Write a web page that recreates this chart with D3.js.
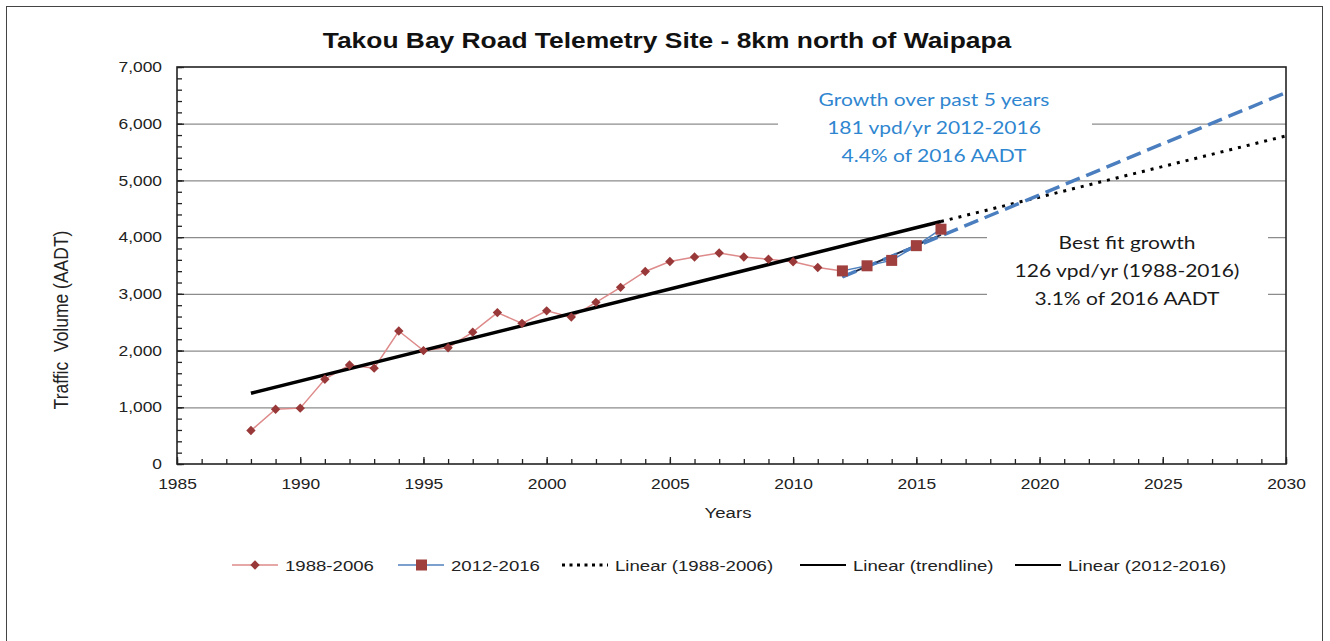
<!DOCTYPE html>
<html>
<head>
<meta charset="utf-8">
<script src="https://cdn.jsdelivr.net/npm/d3@7"></script>
<style>
  body { margin: 0; background: #fff; }
  svg { display: block; }
  text { font-family: "Liberation Sans", Arial, sans-serif; fill: #222; }
  .note text { font-family: Lato, "Open Sans", sans-serif; }
</style>
</head>
<body>
<div id="chart"></div>
<script>
// data
const years1 = [1988, 1989, 1990, 1991, 1992, 1993, 1994, 1995, 1996, 1997, 1998, 1999, 2000,
    2001, 2002, 2003, 2004, 2005, 2006, 2007, 2008, 2009, 2010, 2011, 2012];
const vals1 = [590, 965, 985, 1495, 1745, 1690, 2345, 2000, 2050, 2325, 2670, 2480, 2700,
    2590, 2850, 3115, 3395, 3570, 3650, 3720, 3650, 3610, 3565, 3465, 3405];
const years2 = [2012, 2013, 2014, 2015, 2016];
const vals2 = [3405, 3495, 3590, 3850, 4140];

// trendlines (end points)
const trendYears = [1988, 2016];
const trendVals = [1247, 4275];
const projYears = [2016, 2030];
const projVals = [4275, 5785];
const recentYears = [2012, 2016];
const recentVals = [3300, 4040];
const recentProjYears = [2012, 2030];
const recentProjVals = [3300, 6550];

const yTicks = [0, 1000, 2000, 3000, 4000, 5000, 6000, 7000];
const xTicks = [1985, 1990, 1995, 2000, 2005, 2010, 2015, 2020, 2025, 2030];

const legendLabels = ['1988-2006', '2012-2016', 'Linear (1988-2006)', 'Linear (trendline)', 'Linear (2012-2016)'];
const blueNote = ['Growth over past 5 years', '181 vpd/yr 2012-2016', '4.4% of 2016 AADT'];
const blackNote = ['Best fit growth', '126 vpd/yr (1988-2016)', '3.1% of 2016 AADT'];

const W = 1330, H = 641;
const sx = 1.2; // text in the reference is stretched sideways

const svg = d3.select('#chart').append('svg')
    .attr('width', W)
    .attr('height', H);

// outer frame
svg.append('rect')
    .attr('x', 6.5).attr('y', 6.5)
    .attr('width', 1316).attr('height', 700)
    .attr('fill', 'none')
    .attr('stroke', '#444')
    .attr('stroke-width', 1);

const x = d3.scaleLinear().domain([1985, 2030]).range([177, 1286]);
const y = d3.scaleLinear().domain([0, 7000]).range([464, 67]);

function txt(parent, px, py, str, anchor) {
    return parent.append('text')
        .attr('transform', `translate(${px},${py}) scale(${sx},1)`)
        .attr('text-anchor', anchor || 'middle')
        .text(str);
}

// title
txt(svg, 667, 48, 'Takou Bay Road Telemetry Site - 8km north of Waipapa')
    .style('font-size', '22px')
    .style('font-weight', 'bold')
    .style('fill', '#111');

// gridlines
svg.append('g').selectAll('line')
    .data(yTicks.slice(1, -1))
    .enter()
    .append('line')
    .attr('x1', x(1985)).attr('x2', x(2030))
    .attr('y1', d => y(d) + 0.5).attr('y2', d => y(d) + 0.5)
    .attr('stroke', '#8c8c8c')
    .attr('stroke-width', 1.2);

// white boxes behind the notes
const notes = svg.append('g').attr('class', 'note');
notes.append('rect')
    .attr('x', 778).attr('y', 84).attr('width', 314).attr('height', 86)
    .attr('fill', '#fff');
notes.append('rect')
    .attr('x', 987).attr('y', 225).attr('width', 281).attr('height', 84)
    .attr('fill', '#fff');

blueNote.forEach((s, i) => {
    txt(notes, 934, 106 + i * 28, s)
        .style('font-size', '17.5px')
        .style('fill', '#2f86d0');
});
blackNote.forEach((s, i) => {
    txt(notes, 1127, 249 + i * 28, s)
        .style('font-size', '17.5px')
        .style('fill', '#1a1a1a');
});

// axes: minor and major ticks pointing inside
const axisG = svg.append('g');
axisG.append('g')
    .attr('transform', `translate(0,${y(0)})`)
    .call(d3.axisBottom(x).tickValues(d3.range(1985, 2031, 1)).tickSize(-5).tickFormat(''))
    .call(g => g.select('.domain').remove());
axisG.append('g')
    .attr('transform', `translate(0,${y(0)})`)
    .call(d3.axisBottom(x).tickValues(xTicks).tickSize(-7).tickPadding(15).tickFormat(d3.format('d')))
    .call(g => g.select('.domain').remove());
axisG.append('g')
    .attr('transform', `translate(${x(1985)},0)`)
    .call(d3.axisLeft(y).tickValues(d3.range(0, 7001, 200)).tickSize(-5).tickFormat(''))
    .call(g => g.select('.domain').remove());
axisG.append('g')
    .attr('transform', `translate(${x(1985)},0)`)
    .call(d3.axisLeft(y).tickValues(yTicks).tickSize(-7).tickPadding(15).tickFormat(d3.format(',')))
    .call(g => g.select('.domain').remove());
axisG.selectAll('line').attr('stroke', '#222').attr('stroke-width', 1.3);
axisG.selectAll('text')
    .style('font-size', '14.5px')
    .style('font-family', '"Liberation Sans", Arial, sans-serif')
    .attr('fill', '#222');
axisG.selectAll('.tick text').each(function () {
    const t = d3.select(this);
    const tx = +t.attr('x') || 0;
    const ty = +t.attr('y') || 0;
    t.attr('transform', `translate(${tx},${ty}) scale(${sx},1)`).attr('x', 0).attr('y', 0);
});

// plot frame
svg.append('rect')
    .attr('x', x(1985)).attr('y', y(7000))
    .attr('width', x(2030) - x(1985)).attr('height', y(0) - y(7000))
    .attr('fill', 'none')
    .attr('stroke', '#222')
    .attr('stroke-width', 1.6);

// axis titles
txt(svg, 728, 518, 'Years').style('font-size', '15.5px');
svg.append('text')
    .attr('transform', `translate(68,320) rotate(-90) scale(1,${sx})`)
    .attr('text-anchor', 'middle')
    .style('font-size', '17.5px')
    .style('white-space', 'pre')
    .text('Traffic  Volume (AADT)');

const line = d3.line().x(d => x(d[0])).y(d => y(d[1]));
const zip = (a, b) => a.map((v, i) => [v, b[i]]);

// series 1988-2006
svg.append('path')
    .datum(zip(years1, vals1))
    .attr('d', line)
    .attr('fill', 'none')
    .attr('stroke', '#de8a8a')
    .attr('stroke-width', 1.5);

// best fit trendline
svg.append('path')
    .datum(zip(trendYears, trendVals))
    .attr('d', line)
    .attr('fill', 'none')
    .attr('stroke', '#000')
    .attr('stroke-width', 3.5);

// projection of best fit (dotted)
svg.append('path')
    .datum(zip(projYears, projVals))
    .attr('d', line)
    .attr('fill', 'none')
    .attr('stroke', '#000')
    .attr('stroke-width', 3)
    .attr('stroke-dasharray', '3,6');

// series 2012-2016 line
svg.append('path')
    .datum(zip(years2, vals2))
    .attr('d', line)
    .attr('fill', 'none')
    .attr('stroke', '#4f81bd')
    .attr('stroke-width', 1.5);

// recent trend (solid thin) and its projection (blue dashed)
svg.append('path')
    .datum(zip(recentYears, recentVals))
    .attr('d', line)
    .attr('fill', 'none')
    .attr('stroke', '#1f2f4f')
    .attr('stroke-width', 2);
svg.append('path')
    .datum(zip(recentProjYears, recentProjVals))
    .attr('d', line)
    .attr('fill', 'none')
    .attr('stroke', '#4a7ebf')
    .attr('stroke-width', 3.5)
    .attr('stroke-dasharray', '15,7');

// markers
const diamond = d3.symbol(d3.symbolSquare, 44);
svg.append('g').selectAll('path')
    .data(zip(years1, vals1))
    .enter()
    .append('path')
    .attr('d', diamond)
    .attr('transform', d => `translate(${x(d[0])},${y(d[1])}) rotate(45)`)
    .attr('fill', '#993838');

svg.append('g').selectAll('rect')
    .data(zip(years2, vals2))
    .enter()
    .append('rect')
    .attr('x', d => x(d[0]) - 5.5)
    .attr('y', d => y(d[1]) - 5.5)
    .attr('width', 11).attr('height', 11)
    .attr('fill', '#a0403e');

// legend
const legend = svg.append('g').attr('transform', 'translate(0,565)');
const legendX = [232, 398, 562, 800, 1015];
legendLabels.forEach((lab, i) => {
    const g = legend.append('g').attr('transform', `translate(${legendX[i]},0)`);
    const ln = g.append('line').attr('x1', 0).attr('x2', 46).attr('y1', 0).attr('y2', 0);
    if (i === 0) {
        ln.attr('stroke', '#de8a8a').attr('stroke-width', 1.5);
        g.append('path').attr('d', diamond).attr('transform', 'translate(23,0) rotate(45)').attr('fill', '#993838');
    } else if (i === 1) {
        ln.attr('stroke', '#4f81bd').attr('stroke-width', 1.5);
        g.append('rect').attr('x', 18).attr('y', -5.5).attr('width', 11).attr('height', 11).attr('fill', '#a0403e');
    } else if (i === 2) {
        ln.attr('stroke', '#000').attr('stroke-width', 3).attr('stroke-dasharray', '3,4.5');
    } else {
        ln.attr('stroke', '#000').attr('stroke-width', 2);
    }
    txt(g, 53, 6, lab, 'start').style('font-size', '15.5px');
});
</script>
</body>
</html>
